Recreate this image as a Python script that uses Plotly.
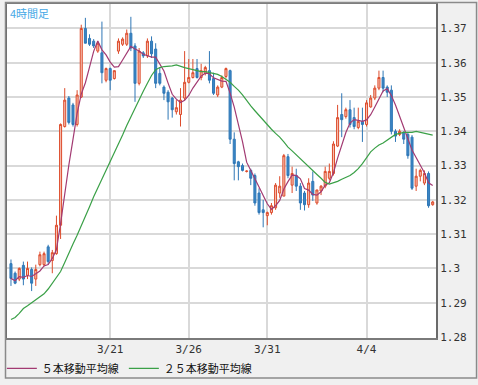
import plotly.graph_objects as go
import pandas as pd

# 4-hour candles (index order), prices
opens = [1.3014,1.2986,1.2969,1.3009,1.2980,1.2997,1.2969,1.3011,1.3011,1.3063,
         1.3023,1.3043,1.3126,1.3414,1.3497,1.3477,1.3420,1.3500,1.3700,1.3671,
         1.3663,1.3634,1.3629,1.3549,1.3583,1.3554,1.3634,1.3654,1.3654,1.3686,
         1.3649,1.3540,1.3629,1.3620,1.3663,1.3640,1.3569,1.3529,1.3514,1.3497,
         1.3457,1.3449,1.3497,1.3543,1.3557,1.3583,1.3557,1.3569,1.3577,1.3554,
         1.3506,1.3529,1.3560,1.3577,1.3377,1.3311,1.3300,1.3283,1.3286,1.3271,
         1.3220,1.3171,1.3154,1.3163,1.3177,1.3220,1.3211,1.3326,1.3243,1.3271,
         1.3240,1.3220,1.3186,1.3254,1.3191,1.3226,1.3240,1.3263,1.3277,1.3357,
         1.3449,1.3443,1.3463,1.3440,1.3411,1.3429,1.3420,1.3471,1.3497,1.3526,
         1.3557,1.3529,1.3520,1.3400,1.3391,1.3397,1.3391,1.3383,1.3240,1.3269,
         1.3249,1.3277,1.3186]
highs = [1.3026,1.2991,1.3003,1.3020,1.3020,1.3003,1.3011,1.3049,1.3049,1.3069,
         1.3054,1.3154,1.3423,1.3526,1.3503,1.3483,1.3520,1.3711,1.3731,1.3683,
         1.3669,1.3663,1.3720,1.3586,1.3586,1.3577,1.3671,1.3674,1.3697,1.3734,
         1.3657,1.3643,1.3634,1.3671,1.3677,1.3657,1.3586,1.3534,1.3520,1.3500,
         1.3491,1.3526,1.3634,1.3611,1.3611,1.3611,1.3597,1.3591,1.3634,1.3571,
         1.3534,1.3563,1.3586,1.3580,1.3397,1.3314,1.3306,1.3286,1.3291,1.3277,
         1.3234,1.3200,1.3166,1.3191,1.3249,1.3269,1.3334,1.3334,1.3297,1.3291,
         1.3249,1.3226,1.3263,1.3283,1.3229,1.3243,1.3297,1.3306,1.3371,1.3477,
         1.3511,1.3469,1.3491,1.3469,1.3469,1.3469,1.3491,1.3506,1.3534,1.3577,
         1.3577,1.3534,1.3534,1.3406,1.3406,1.3400,1.3397,1.3389,1.3291,1.3291,
         1.3286,1.3283,1.3197]
lows = [1.2949,1.2954,1.2963,1.2951,1.2969,1.2934,1.2949,1.3006,1.3006,1.3011,
        1.2986,1.3040,1.3086,1.3411,1.3420,1.3414,1.3414,1.3497,1.3657,1.3649,
        1.3643,1.3629,1.3540,1.3543,1.3520,1.3551,1.3626,1.3649,1.3649,1.3634,
        1.3486,1.3534,1.3614,1.3614,1.3614,1.3526,1.3534,1.3491,1.3434,1.3440,
        1.3449,1.3414,1.3491,1.3540,1.3554,1.3554,1.3549,1.3563,1.3540,1.3506,
        1.3500,1.3526,1.3554,1.3363,1.3257,1.3257,1.3283,1.3280,1.3243,1.3183,
        1.3157,1.3120,1.3126,1.3157,1.3171,1.3206,1.3211,1.3263,1.3220,1.3226,
        1.3171,1.3169,1.3177,1.3197,1.3186,1.3214,1.3234,1.3257,1.3271,1.3354,
        1.3383,1.3437,1.3411,1.3406,1.3406,1.3369,1.3414,1.3469,1.3491,1.3520,
        1.3514,1.3500,1.3391,1.3369,1.3386,1.3363,1.3320,1.3229,1.3226,1.3254,
        1.3243,1.3177,1.3183]
closes = [1.2971,1.2957,1.3000,1.2969,1.3000,1.2957,1.2997,1.3040,1.3043,1.3020,
          1.3046,1.3126,1.3420,1.3491,1.3426,1.3420,1.3506,1.3700,1.3657,1.3654,
          1.3649,1.3657,1.3571,1.3583,1.3549,1.3577,1.3663,1.3669,1.3686,1.3643,
          1.3540,1.3634,1.3620,1.3663,1.3626,1.3540,1.3540,1.3511,1.3486,1.3463,
          1.3469,1.3491,1.3543,1.3557,1.3571,1.3557,1.3577,1.3586,1.3549,1.3511,
          1.3529,1.3557,1.3583,1.3377,1.3306,1.3297,1.3286,1.3284,1.3263,1.3191,
          1.3163,1.3163,1.3163,1.3183,1.3243,1.3240,1.3329,1.3271,1.3277,1.3240,
          1.3191,1.3186,1.3249,1.3214,1.3229,1.3240,1.3283,1.3283,1.3363,1.3440,
          1.3434,1.3463,1.3420,1.3414,1.3429,1.3420,1.3483,1.3497,1.3526,1.3557,
          1.3526,1.3514,1.3400,1.3386,1.3400,1.3377,1.3329,1.3234,1.3269,1.3286,
          1.3277,1.3183,1.3194]

# 25-bar moving average as drawn
ma25 = [1.2851,1.2857,1.2869,1.2883,1.2891,1.2900,1.2909,1.2917,1.2926,1.2940,
        1.2957,1.2974,1.2991,1.3017,1.3046,1.3071,1.3097,1.3123,1.3151,1.3180,
        1.3209,1.3234,1.3260,1.3286,1.3311,1.3334,1.3360,1.3389,1.3417,1.3443,
        1.3469,1.3494,1.3517,1.3540,1.3563,1.3580,1.3586,1.3589,1.3589,1.3591,
        1.3594,1.3589,1.3586,1.3583,1.3580,1.3577,1.3574,1.3574,1.3571,1.3569,
        1.3566,1.3560,1.3551,1.3543,1.3531,1.3520,1.3506,1.3489,1.3474,1.3460,
        1.3446,1.3431,1.3417,1.3406,1.3394,1.3383,1.3369,1.3354,1.3343,1.3331,
        1.3320,1.3309,1.3297,1.3286,1.3274,1.3263,1.3251,1.3246,1.3249,1.3254,
        1.3260,1.3266,1.3271,1.3280,1.3291,1.3306,1.3323,1.3340,1.3351,1.3360,
        1.3366,1.3374,1.3383,1.3391,1.3394,1.3397,1.3397,1.3397,1.3400,1.3397,
        1.3394,1.3391,1.3389]

tick_pos = [24, 43, 62, 86]
tick_labels = ["3/21", "3/26", "3/31", "4/4"]
y_ticks = [1.28, 1.29, 1.30, 1.31, 1.32, 1.33, 1.34, 1.35, 1.36, 1.37]
y_labels = ["1.28", "1.29", "1.3", "1.31", "1.32", "1.33", "1.34", "1.35", "1.36", "1.37"]

idx = list(range(len(closes)))
ma5 = pd.Series(closes).rolling(5, min_periods=1).mean().tolist()

fig = go.Figure()
fig.add_trace(go.Candlestick(
    x=idx, open=opens, high=highs, low=lows, close=closes,
    increasing=dict(line=dict(color="#dd4b2b", width=1), fillcolor="#f6c2b4"),
    decreasing=dict(line=dict(color="#2f77b6", width=1), fillcolor="#3a86c6"),
    whiskerwidth=0, showlegend=False, hoverinfo="skip"))
fig.add_trace(go.Scatter(x=idx, y=ma5, mode="lines", name="５本移動平均線",
                         line=dict(color="#a23a72", width=1.2)))
fig.add_trace(go.Scatter(x=idx, y=ma25, mode="lines", name="２５本移動平均線",
                         line=dict(color="#3aa047", width=1.2)))

mono = "DejaVu Sans Mono"
fig.update_layout(
    width=478, height=385,
    margin=dict(l=2, r=42, t=2, b=42),
    paper_bgcolor="#f0f0f0", plot_bgcolor="white",
    showlegend=True,
    legend=dict(orientation="h", x=-0.012, xanchor="left", y=-0.091, yanchor="middle",
                bgcolor="rgba(0,0,0,0)", font=dict(family="Noto Sans CJK JP", size=11, color="#111"),
                itemwidth=30, tracegroupgap=0),
    xaxis=dict(range=[-0.96, 102.8], rangeslider=dict(visible=False),
               tickmode="array", tickvals=tick_pos, ticktext=tick_labels,
               showgrid=True, gridcolor="#d9d9d9", gridwidth=1.5,
               showline=True, linecolor="#7a7a7a", linewidth=2, mirror=True,
               ticks="", zeroline=False,
               tickfont=dict(family=mono, size=11, color="#333")),
    yaxis=dict(range=[1.27971, 1.37714], side="right",
               tickmode="array", tickvals=y_ticks, ticktext=y_labels,
               showgrid=True, gridcolor="#d9d9d9", gridwidth=1.5,
               showline=True, linecolor="#6a6a6a", linewidth=2, mirror=True,
               ticks="", zeroline=False,
               tickfont=dict(family=mono, size=11, color="#333")),
    annotations=[dict(text="4時間足", xref="paper", yref="paper", x=0.002, y=1.002,
                      xanchor="left", yanchor="top", showarrow=False,
                      font=dict(family="Noto Sans CJK JP", size=11, color="#45a8e6"))],
    shapes=[dict(type="rect", xref="paper", yref="paper",
                 x0=-0.0035, x1=1.0945, y0=-0.1195, y1=1.0044,
                 line=dict(color="#8a8a8a", width=1.5), layer="above")],
)
fig.write_html("out.html", config={"displayModeBar": False},
               post_script="document.body.style.margin='0';document.body.style.overflow='hidden';")
